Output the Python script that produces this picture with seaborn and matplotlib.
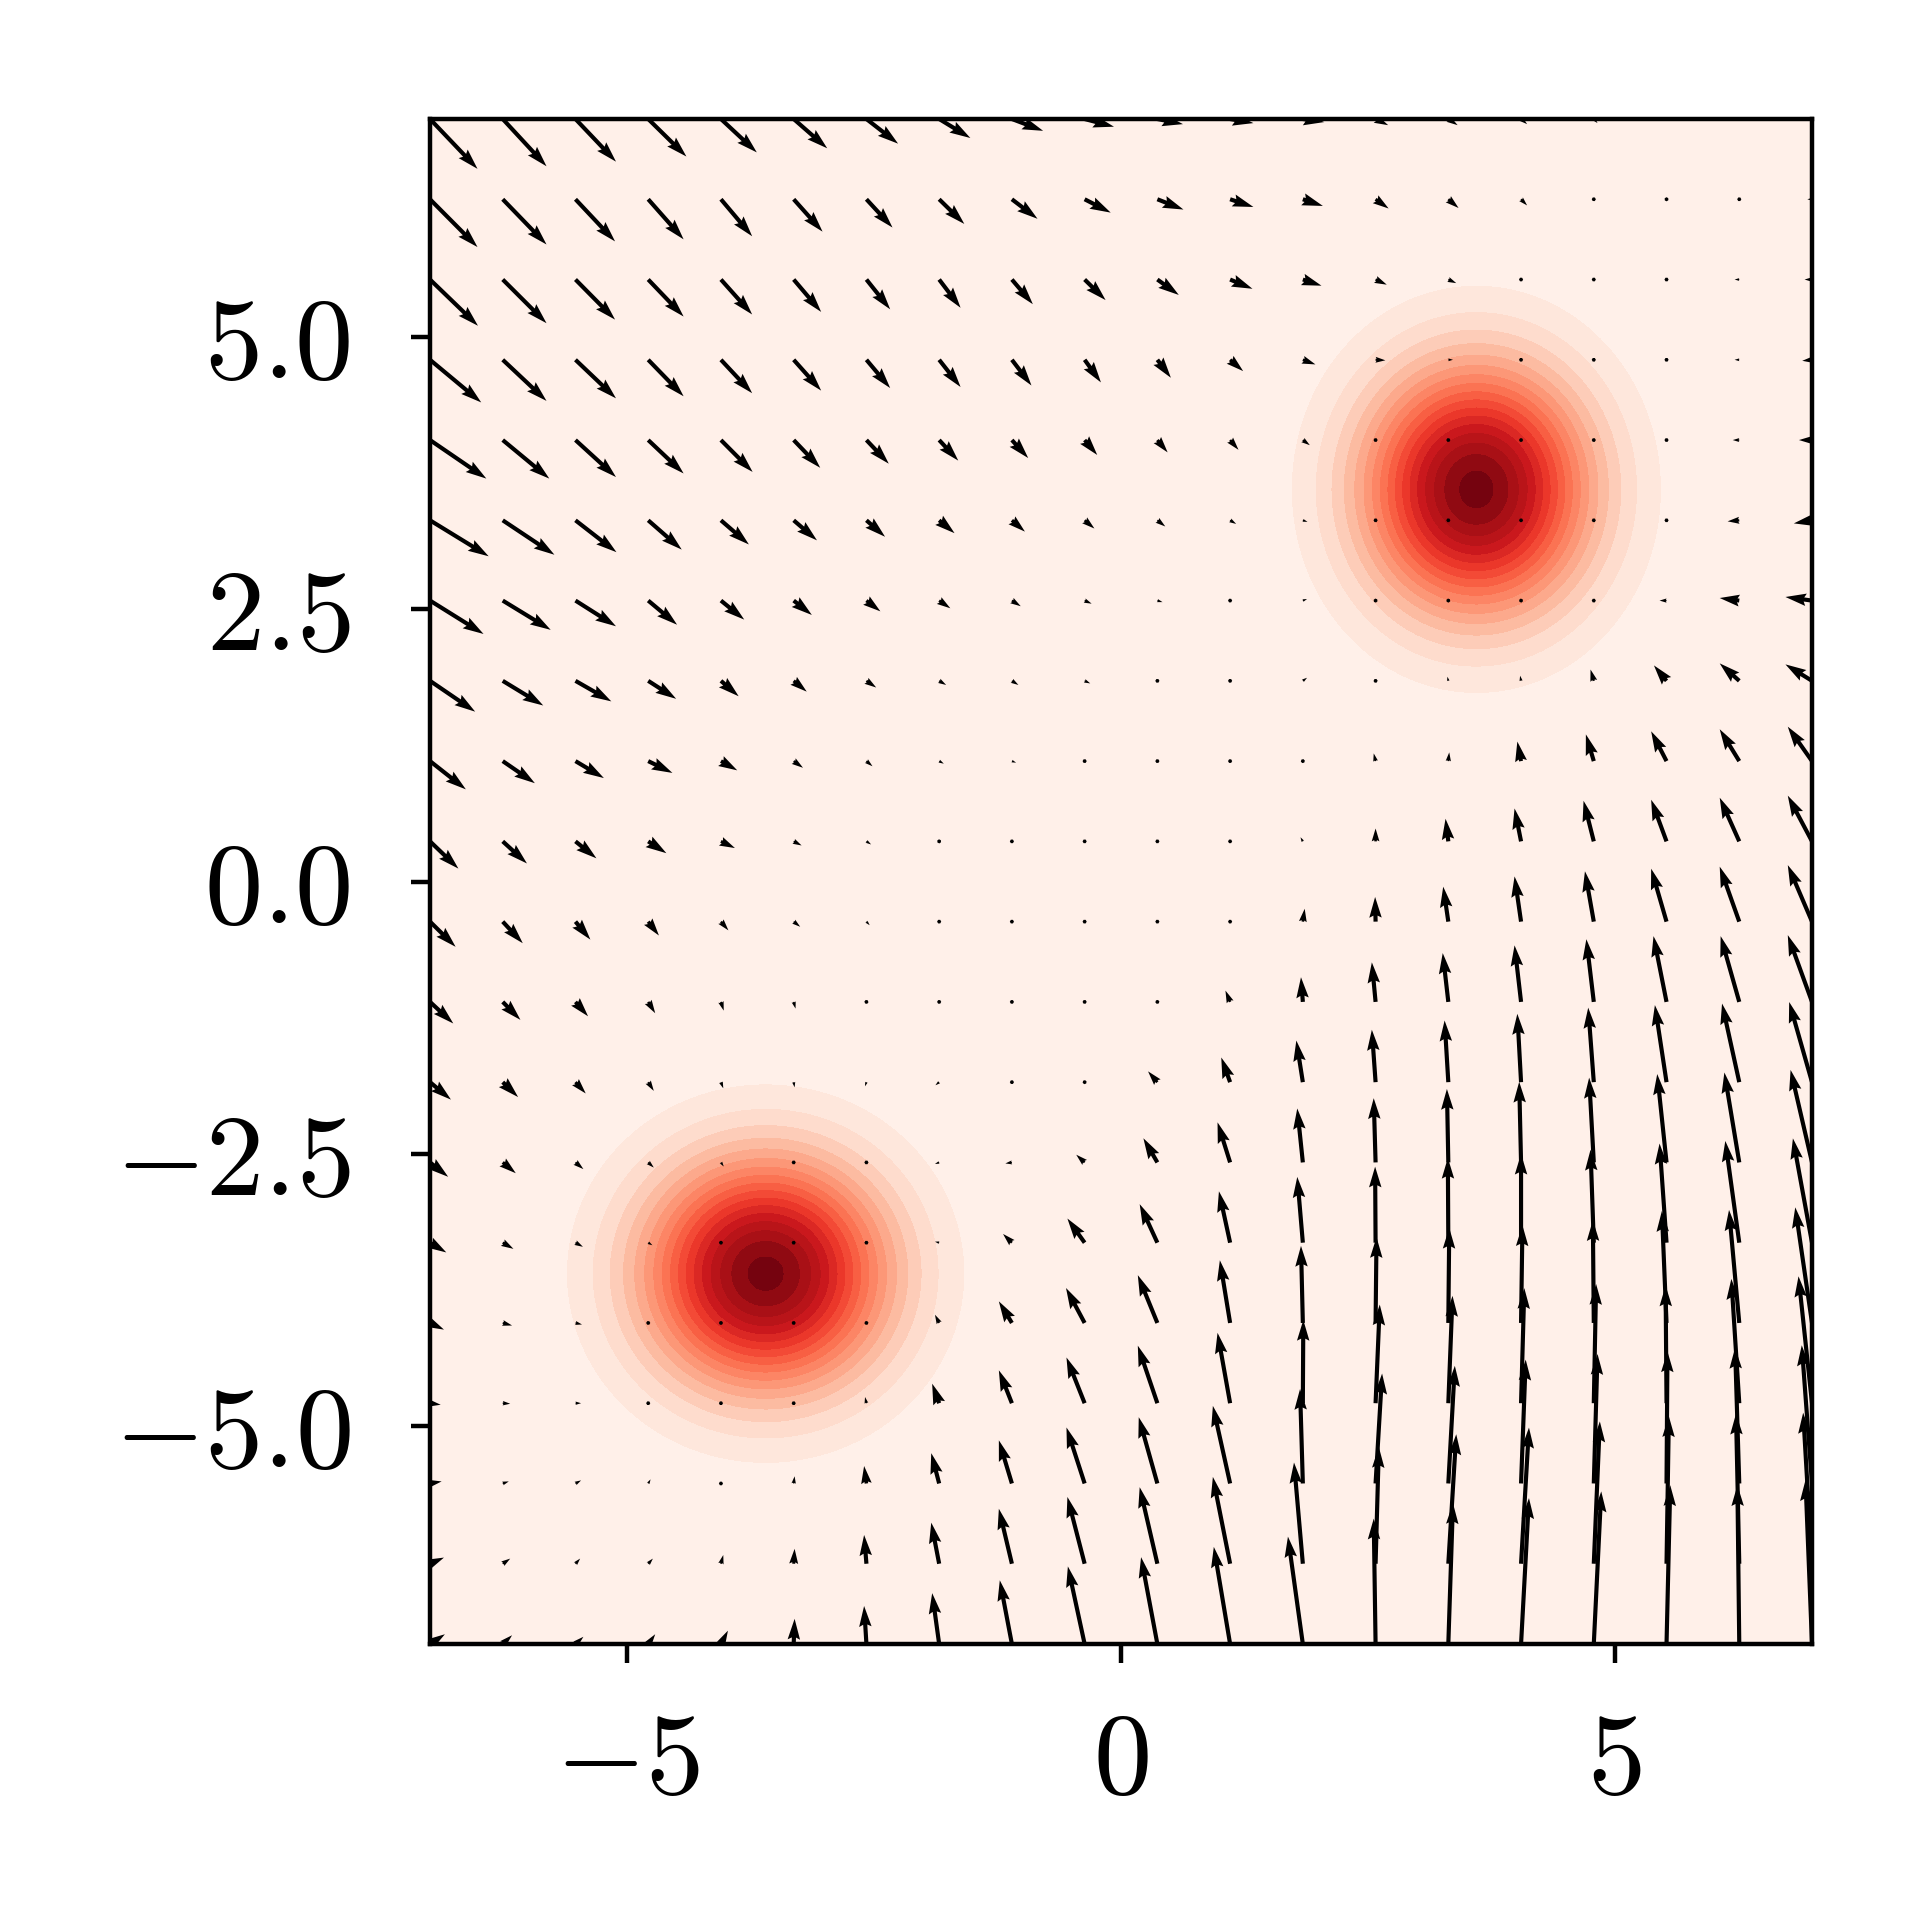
import numpy as np
import matplotlib
matplotlib.use("Agg")
import matplotlib.pyplot as plt
import seaborn as sns

# ---------------- data ----------------
# arrow grid: 20 x 20 points on [-7, 7]
grid_lo, grid_hi, n_grid = -7.0, 7.0, 20

# two Gaussian blobs (density shown as filled contours)
blob_mean_x = [3.6, -3.6]
blob_mean_y = [3.6, -3.6]
blob_sigma_x = [0.78, 0.84]
blob_sigma_y = [0.78, 0.725]
blob_weight = [0.5, 0.5]

# arrow components, rows listed from top (y=7) to bottom (y=-7),
# columns from left (x=-7) to right (x=7)
U_top_down = [
    [102, 94, 87, 82, 77, 72, 68, 67, 67, 63, 55, 50, 46, 27, 20, 13, 8, 2, -4, -6],
    [102, 94, 85, 76, 67, 62, 56, 54, 55, 56, 56, 50, 43, 28, 22, 13, 4, -3, -7, -10],
    [103, 94, 85, 76, 67, 59, 51, 46, 45, 45, 46, 48, 40, 24, 17, 0, 0, 0, -10, -16],
    [110, 94, 87, 76, 67, 59, 51, 46, 42, 35, 29, 28, 27, 21, 10, 0, 0, 0, -10, -21],
    [121, 100, 87, 76, 68, 57, 48, 41, 35, 27, 22, 18, 15, 8, 0, 0, 0, 0, -14, -28],
    [126, 111, 88, 72, 60, 50, 40, 33, 28, 21, 17, 13, 10, 6, 0, 0, 0, -8, -25, -39],
    [115, 103, 87, 62, 50, 39, 30, 24, 19, 15, 11, 0, 9, -4, -4, -4, 0, -15, -42, -57],
    [97, 87, 77, 60, 38, 28, 21, 15, 14, 12, 0, 0, 9, -5, -2, -2, -7, -27, -42, -57],
    [77, 69, 61, 52, 35, 20, 13, 10, 9, 0, 0, 0, -5, -4, 2, -8, -17, -33, -42, -52],
    [61, 52, 45, 39, 30, 17, 10, 7, 0, 0, 0, 0, -5, 0, -6, -14, -22, -33, -42, -52],
    [55, 43, 32, 23, 16, 14, 7, 0, 0, 0, 0, 2, 4, -1, -11, -14, -19, -33, -42, -52],
    [50, 38, 27, 15, 6, 4, 2, 0, 0, 0, -3, -10, -4, -8, -12, -14, -16, -28, -40, -52],
    [45, 33, 22, 12, 5, 2, -3, -8, 0, -7, -20, -19, -14, -8, -8, -8, -12, -25, -37, -49],
    [39, 28, 17, 12, 6, 0, 0, -9, -14, -18, -30, -27, -12, -4, -3, -4, -10, -20, -32, -46],
    [35, 23, 16, 9, 0, 0, 0, -9, -19, -37, -38, -24, -12, -1, -1, 0, -7, -15, -30, -41],
    [30, 20, 14, 0, 0, 0, -5, -9, -28, -40, -42, -22, -4, 2, 2, 3, -2, -10, -22, -36],
    [23, 16, 12, 0, 0, 0, -3, -15, -28, -39, -42, -27, 1, 9, 9, 7, 5, -2, -17, -29],
    [25, 13, 12, 5, 0, 2, -5, -17, -28, -39, -40, -37, -6, 14, 14, 10, 8, 2, -9, -22],
    [30, 16, 10, 10, 5, 2, -5, -17, -28, -37, -38, -37, -19, 7, 17, 17, 13, 5, -7, -19],
    [32, 20, 17, 15, 15, 2, -5, -15, -26, -36, -35, -35, -32, -4, 10, 17, 16, 8, -4, -14],
]
V_top_down = [
    [-97, -92, -83, -73, -65, -57, -48, -37, -23, -15, -10, -8, -6, -12, -12, -10, -8, -6, -4, -2],
    [-93, -88, -82, -78, -72, -63, -55, -48, -38, -26, -20, -15, -13, -18, -17, -12, -7, -2, 0, 0],
    [-90, -85, -78, -72, -68, -63, -58, -55, -48, -40, -30, -18, -12, -10, -7, 0, 0, 0, 0, 0],
    [-83, -80, -75, -71, -65, -60, -55, -53, -50, -44, -35, -22, -9, -1, 0, 0, 0, 0, 0, -2],
    [-75, -75, -72, -65, -62, -54, -46, -40, -35, -29, -24, -19, -10, 0, 0, 0, 0, 0, 0, 0],
    [-70, -67, -62, -57, -47, -39, -32, -25, -22, -16, -12, -7, -3, 0, 0, 0, 0, 0, -2, -6],
    [-65, -57, -50, -47, -37, -28, -21, -15, -11, -6, -3, 0, 3, -3, -3, -3, 0, 0, 5, 7],
    [-60, -48, -40, -35, -30, -21, -13, -8, -8, -5, 0, 0, 6, 6, 8, 10, 22, 30, 34, 32],
    [-55, -43, -33, -23, -18, -13, -10, -5, -3, 0, 0, 0, 5, 15, 17, 38, 52, 58, 62, 67],
    [-53, -43, -33, -23, -13, -8, -6, -3, 0, 0, 0, 0, 8, 25, 44, 64, 79, 81, 85, 89],
    [-49, -42, -35, -27, -17, -10, -7, 0, 0, 0, 0, 0, 25, 48, 68, 88, 98, 103, 107, 110],
    [-42, -35, -28, -22, -17, -13, -5, 0, 0, 0, 3, 22, 48, 77, 95, 110, 122, 128, 128, 130],
    [-34, -29, -22, -17, -12, -10, -8, -6, 0, -2, 21, 48, 81, 102, 120, 133, 145, 150, 153, 156],
    [-28, -21, -13, -10, -8, 0, 0, -3, -2, 15, 47, 78, 105, 125, 143, 157, 165, 172, 175, 180],
    [-19, -12, -8, -5, 0, 0, 0, 2, 17, 47, 75, 100, 128, 148, 165, 173, 181, 193, 198, 203],
    [-13, -5, -3, 0, 0, 0, 5, 16, 42, 68, 93, 122, 150, 167, 185, 190, 200, 218, 220, 225],
    [-3, -1, 0, 0, 0, 0, 12, 38, 64, 89, 112, 137, 162, 192, 209, 224, 232, 229, 242, 247],
    [4, 4, 6, 8, 0, 14, 34, 59, 84, 109, 129, 151, 184, 214, 229, 241, 252, 257, 264, 269],
    [12, 10, 10, 10, 17, 29, 56, 80, 107, 130, 149, 169, 197, 227, 252, 265, 277, 287, 292, 294],
    [19, 17, 14, 19, 26, 49, 74, 99, 124, 151, 169, 189, 209, 244, 274, 284, 297, 309, 309, 319],
]

x_ticks = [-5, 0, 5]
y_ticks = [-5.0, -2.5, 0.0, 2.5, 5.0]

# ---------------- style ----------------
sns.set_theme(style="ticks")
plt.rcParams.update({
    "font.family": ["cmr10"],
    "mathtext.fontset": "cm",
    "axes.formatter.use_mathtext": True,
    "axes.unicode_minus": True,
    "font.size": 21,
    "xtick.labelsize": 21,
    "ytick.labelsize": 21,
    "axes.linewidth": 0.8,
    "axes.edgecolor": "black",
    "xtick.color": "black",
    "ytick.color": "black",
    "xtick.major.size": 3.5,
    "ytick.major.size": 3.5,
    "xtick.major.width": 0.8,
    "ytick.major.width": 0.8,
    "xtick.major.pad": 8.7,
    "ytick.major.pad": 10.8,
})

DPI = 400
fig = plt.figure(figsize=(1933 / DPI, 1933 / DPI), dpi=DPI)
ax = fig.add_axes([430 / 1933, (1933 - 1645) / 1933, 1382 / 1933, 1525 / 1933])

# density field
gx = np.linspace(grid_lo, grid_hi, 500)
GX, GY = np.meshgrid(gx, gx)
Z = np.zeros_like(GX)
for mx, my, sx, sy, w in zip(blob_mean_x, blob_mean_y, blob_sigma_x, blob_sigma_y, blob_weight):
    Z += w / (2 * np.pi * sx * sy) * np.exp(-0.5 * ((GX - mx) / sx) ** 2 - 0.5 * ((GY - my) / sy) ** 2)
step = Z.max() / 17.4
levels = step * np.arange(19)
cmap = sns.color_palette("Reds", as_cmap=True)
ax.contourf(GX, GY, Z, levels=levels, cmap=cmap)

# vector field
qx = np.linspace(grid_lo, grid_hi, n_grid)
QX, QY = np.meshgrid(qx, qx)
U = np.flipud(np.array(U_top_down, dtype=float))
V = np.flipud(np.array(V_top_down, dtype=float))
ax.quiver(QX, QY, U, V, angles="xy", scale_units="xy", scale=212, color="black", pivot="tail")

ax.set_xlim(grid_lo, grid_hi)
ax.set_ylim(grid_lo, grid_hi)
ax.set_xticks(x_ticks)
ax.set_yticks(y_ticks)
for s in ax.spines.values():
    s.set_visible(True)
    s.set_linewidth(0.8)
    s.set_color("black")
ax.tick_params(direction="out", top=False, right=False)

fig.savefig("out.png", dpi=DPI, facecolor="white")
